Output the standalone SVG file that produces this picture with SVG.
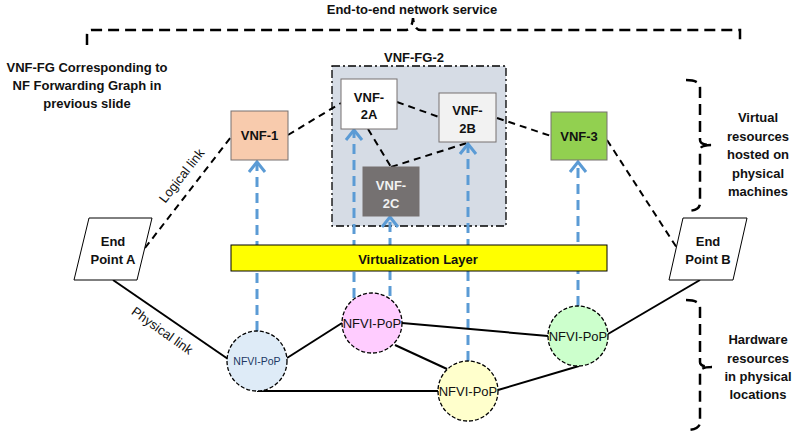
<svg xmlns="http://www.w3.org/2000/svg" width="807" height="440" viewBox="0 0 807 440">
<style>
text{font-family:"Liberation Sans",Arial,sans-serif;fill:#111}
.b{font-weight:bold;font-size:13px}
.c{text-anchor:middle}
.vnf{stroke:#767171;stroke-width:1}
.logic{fill:none;stroke:#000;stroke-width:2;stroke-dasharray:7 5}
.phys{fill:none;stroke:#000;stroke-width:2}
.map{fill:none;stroke:#5b9bd5;stroke-width:3;stroke-dasharray:10 6;marker-end:url(#chev)}
.pop{stroke:#000;stroke-width:1.3;stroke-dasharray:4 2}
.brk{fill:none;stroke:#000;stroke-width:2.5;stroke-dasharray:11 6}
.pt{font-size:13px}
</style>
<defs>
<marker id="chev" markerUnits="userSpaceOnUse" markerWidth="20" markerHeight="20" refX="11" refY="10" orient="auto" viewBox="0 0 20 20">
<path d="M1,2 L11,10 L1,18" fill="none" stroke="#5b9bd5" stroke-width="3"/>
</marker>
</defs>
<rect width="807" height="440" fill="#fff"/>

<!-- brackets and side labels -->
<g id="top-bracket">
<path class="brk" d="M87,45 L87,35 Q87,30 92,30 L405,30 Q412,30 413,18 Q414,30 421,30 L740,30 L740,45"/>
<text class="b c" x="412" y="14">End-to-end network service</text>
</g>
<g id="left-note">
<text class="b c" x="87" y="72">VNF-FG Corresponding to</text>
<text class="b c" x="87" y="90">NF Forwarding Graph in</text>
<text class="b c" x="87" y="108">previous slide</text>
</g>
<g id="virtual-bracket">
<path class="brk" d="M686,80 Q700,80 700,88 L700,140 Q700,145 712,145 Q700,145 700,150 L700,203 Q700,211 686,211"/>
<text class="b c" x="758" y="122">Virtual</text>
<text class="b c" x="758" y="141">resources</text>
<text class="b c" x="758" y="159">hosted on</text>
<text class="b c" x="758" y="178">physical</text>
<text class="b c" x="758" y="196">machines</text>
</g>
<g id="hardware-bracket">
<path class="brk" d="M686,300 Q700,300 700,308 L700,362 Q700,367 712,367 Q700,367 700,372 L700,422 Q700,430 686,430"/>
<text class="b c" x="758" y="344">Hardware</text>
<text class="b c" x="758" y="363">resources</text>
<text class="b c" x="758" y="381">in physical</text>
<text class="b c" x="758" y="399">locations</text>
</g>

<!-- VNF-FG-2 container -->
<g id="vnf-fg-2">
<rect x="332" y="66" width="174" height="160" fill="#d6dce5" stroke="#000" stroke-width="1.3" stroke-dasharray="8 3 2 3"/>
<text class="b c" x="414" y="62">VNF-FG-2</text>
</g>

<!-- connectors -->
<g id="connectors">
<path class="logic" d="M145,248 L231,137"/>
<path class="logic" d="M288,135 L341,103"/>
<path class="logic" d="M397,102 L439,117"/>
<path class="logic" d="M368,129 L391,167"/>
<path class="logic" d="M391,167 L467,143"/>
<path class="logic" d="M497,118 L551,136"/>
<path class="logic" d="M607,140 L677,248"/>
<path class="map" d="M257,331 L257,162"/>
<path class="map" d="M354,298 L354,130"/>
<path class="map" d="M390,296 L390,217"/>
<path class="map" d="M468,361 L468,144"/>
<path class="map" d="M578,306 L578,162"/>
<path class="phys" d="M113,280 L228,359"/>
<path class="phys" d="M287,358 L342,323"/>
<path class="phys" d="M257,391 L438,391"/>
<path class="phys" d="M402,323 L548,336"/>
<path class="phys" d="M395,345 L447,369"/>
<path class="phys" d="M498,390 L579,366"/>
<path class="phys" d="M608,334 L700,280"/>
<text class="pt" transform="translate(182,176) rotate(-52)" text-anchor="middle" y="4">Logical link</text>
<text class="pt" transform="translate(162,331) rotate(35.5)" text-anchor="middle" y="4">Physical link</text>
</g>

<!-- virtualization layer -->
<g id="virtualization-layer">
<rect x="231" y="245" width="376" height="26" fill="#ffff00" stroke="#000" stroke-width="1"/>
<text class="b c" x="418" y="264">Virtualization Layer</text>
</g>

<!-- VNFs -->
<g id="vnf-1">
<rect class="vnf" x="231" y="111" width="57" height="49" fill="#f8cbad"/>
<text class="b c" x="259.5" y="140">VNF-1</text>
</g>
<g id="vnf-2a">
<rect class="vnf" x="341" y="79" width="56" height="50" fill="#ffffff"/>
<text class="b c" x="369" y="102">VNF-</text>
<text class="b c" x="369" y="119">2A</text>
</g>
<g id="vnf-2b">
<rect class="vnf" x="439" y="93" width="57" height="49" fill="#f2f2f2"/>
<text class="b c" x="467.5" y="115">VNF-</text>
<text class="b c" x="467.5" y="133">2B</text>
</g>
<g id="vnf-2c">
<rect class="vnf" x="363" y="167" width="56" height="49" fill="#757171" stroke="#595959"/>
<text class="b c" x="391" y="190" style="fill:#f2f2f2">VNF-</text>
<text class="b c" x="391" y="208" style="fill:#f2f2f2">2C</text>
</g>
<g id="vnf-3">
<rect class="vnf" x="551" y="112" width="56" height="48" fill="#92d050"/>
<text class="b c" x="579" y="141">VNF-3</text>
</g>

<!-- end points -->
<g id="end-point-a">
<polygon points="89,218 152,218 137,280 74,280" fill="#fff" stroke="#000" stroke-width="1"/>
<text class="b c" x="113" y="246">End</text>
<text class="b c" x="113" y="264">Point A</text>
</g>
<g id="end-point-b">
<polygon points="683,218 747,218 733,280 669,280" fill="#fff" stroke="#000" stroke-width="1"/>
<text class="b c" x="708" y="246">End</text>
<text class="b c" x="708" y="264">Point B</text>
</g>

<!-- NFVI-PoPs -->
<g id="pop-blue">
<circle class="pop" cx="257" cy="361" r="30" fill="#deebf7"/>
<text class="c" x="257" y="365" style="font-size:10.5px;fill:#203864">NFVI-PoP</text>
</g>
<g id="pop-pink">
<circle class="pop" cx="372" cy="323" r="30" fill="#ffccff"/>
<text class="c" x="372" y="328" style="font-size:13px">NFVI-PoP</text>
</g>
<g id="pop-yellow">
<circle class="pop" cx="468" cy="391" r="30" fill="#ffffcc"/>
<text class="c" x="468" y="396" style="font-size:13px">NFVI-PoP</text>
</g>
<g id="pop-green">
<circle class="pop" cx="578" cy="336" r="30" fill="#ccffcc"/>
<text class="c" x="578" y="341" style="font-size:13px">NFVI-PoP</text>
</g>
</svg>
